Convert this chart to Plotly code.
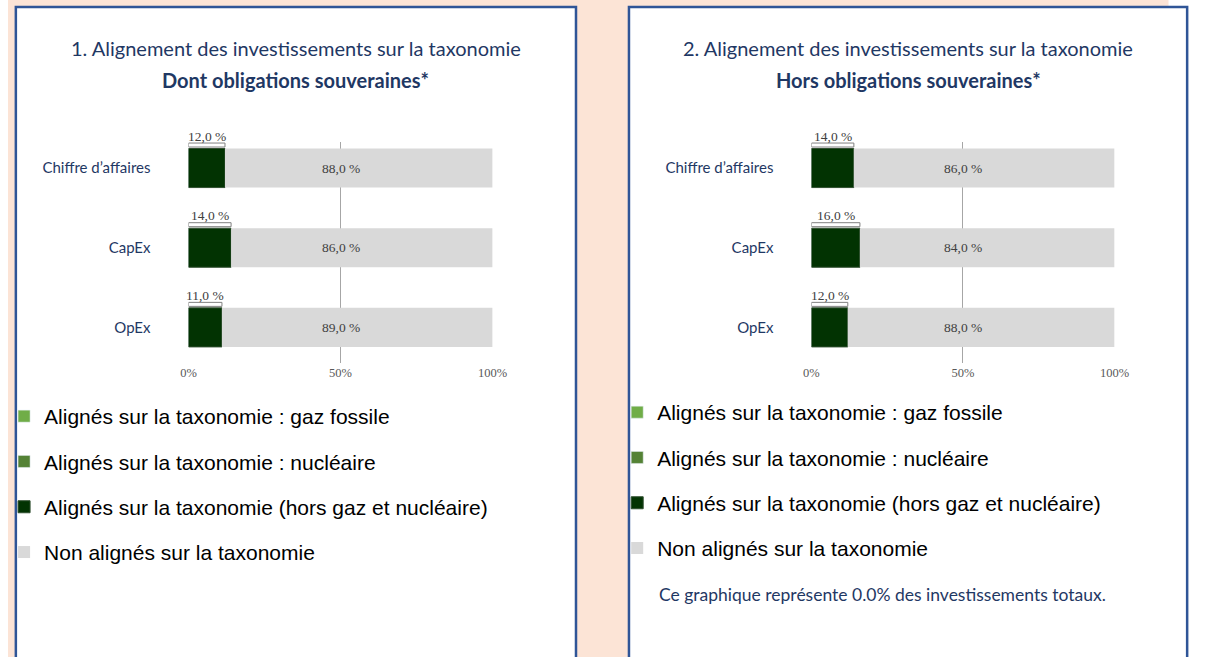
import plotly.graph_objects as go

# ---------------- data ----------------
categories = ["Chiffre d’affaires", "CapEx", "OpEx"]
tick_values = [0, 50, 100]
tick_labels = ["0%", "50%", "100%"]

left_gaz = [0, 0, 0]
left_nucl = [0, 0, 0]
left_aligned = [12.0, 14.0, 11.0]
left_non = [88.0, 86.0, 89.0]

right_gaz = [0, 0, 0]
right_nucl = [0, 0, 0]
right_aligned = [14.0, 16.0, 12.0]
right_non = [86.0, 84.0, 88.0]

series_names = [
    "Alignés sur la taxonomie : gaz fossile",
    "Alignés sur la taxonomie : nucléaire",
    "Alignés sur la taxonomie (hors gaz et nucléaire)",
    "Non alignés sur la taxonomie",
]
titles_line1 = ["1. Alignement des investissements sur la taxonomie",
                "2. Alignement des investissements sur la taxonomie"]
titles_line2 = ["Dont obligations souveraines*", "Hors obligations souveraines*"]
footnote = "Ce graphique représente 0.0% des investissements totaux."

# ---------------- style ----------------
W, H = 1210, 657
PEACH = "#FCE4D6"
BORDER = "#2F5597"
NAVY = "#1F3864"
C_GAZ = "#70AD47"
C_NUCL = "#548235"
C_ALIGN = "#023302"
C_NON = "#D9D9D9"
SANS = "Lato, 'Open Sans', sans-serif"
SERIF = "'Liberation Serif', 'Times New Roman', serif"
ARIAL = "'Liberation Sans', Arial, sans-serif"


def px_x(v):
    return v / W


def px_y(v):
    return 1 - v / H


def fmt(v):
    return f"{v:.1f}".replace(".", ",") + " %"


fig = go.Figure()

panels = [
    dict(x="x", y="y", gaz=left_gaz, nucl=left_nucl, al=left_aligned, non=left_non, legend="legend"),
    dict(x="x2", y="y2", gaz=right_gaz, nucl=right_nucl, al=right_aligned, non=right_non, legend="legend2"),
]

BAR_W = 0.49
for p in panels:
    common = dict(xaxis=p["x"], yaxis=p["y"], orientation="h", legend=p["legend"])
    fig.add_trace(go.Bar(y=categories, x=p["gaz"], name=series_names[0], marker_color=C_GAZ,
                         width=BAR_W, legendgroup="g1", hoverinfo="skip", **common))
    fig.add_trace(go.Bar(y=categories, x=p["nucl"], name=series_names[1], marker_color=C_NUCL,
                         width=BAR_W, legendgroup="g2", hoverinfo="skip", **common))
    fig.add_trace(go.Bar(y=categories, x=p["al"], name=series_names[2], marker_color=C_ALIGN,
                         marker_line=dict(color="#2f4f2f", width=1),
                         width=BAR_W, legendgroup="g3", **common))
    fig.add_trace(go.Bar(y=categories, x=p["non"], base=p["al"], name=series_names[3],
                         marker_color=C_NON, marker_line_width=0,
                         width=BAR_W, legendgroup="g4", **common))
    # thin outline bracket above aligned bar (as in reference)
    fig.add_trace(go.Bar(y=categories, x=p["al"], width=0.05, offset=-0.314,
                         marker=dict(color="white", line=dict(color="#808080", width=1)),
                         showlegend=False, hoverinfo="skip", xaxis=p["x"], yaxis=p["y"],
                         orientation="h"))
    for cat, a, n in zip(categories, p["al"], p["non"]):
        fig.add_annotation(xref=p["x"], yref=p["y"], x=a / 2, y=cat, yshift=32,
                           text=fmt(a), showarrow=False,
                           font=dict(family=SERIF, size=13.5, color="#404040"))
        fig.add_annotation(xref=p["x"], yref=p["y"], x=(a + n) / 2, y=cat,
                           text=fmt(n), showarrow=False,
                           font=dict(family=SERIF, size=13.5, color="#404040"))

# ---------- axes ----------
ydom = [px_y(363), px_y(142)]
xaxis_common = dict(range=[0, 100], tickvals=tick_values, ticktext=tick_labels,
                    showgrid=True, gridcolor="#A6A6A6", gridwidth=1, zeroline=False,
                    showline=False, ticks="", fixedrange=True,
                    tickfont=dict(family=SERIF, size=12.5, color="#595959"))
yaxis_common = dict(type="category", categoryorder="array", categoryarray=categories,
                    range=[2.447, -0.327], showgrid=False, zeroline=False, showline=False,
                    ticks="", ticklabelstandoff=37, fixedrange=True,
                    tickfont=dict(family=SANS, size=15, color=NAVY))

fig.update_layout(
    xaxis=dict(domain=[px_x(184), px_x(494)], anchor="y", **xaxis_common),
    yaxis=dict(domain=ydom, anchor="x", **yaxis_common),
    xaxis2=dict(domain=[px_x(819), px_x(1128)], anchor="y2", **xaxis_common),
    yaxis2=dict(domain=ydom, anchor="x2", **yaxis_common),
)

# ---------- background & panels ----------
shapes = [
    dict(type="rect", xref="paper", yref="paper", x0=0, x1=px_x(1183), y0=0, y1=1,
         fillcolor=PEACH, line_width=0, layer="below"),
    dict(type="rect", xref="paper", yref="paper", x0=px_x(8), x1=px_x(579), y0=px_y(670), y1=px_y(7),
         fillcolor="white", line=dict(color=BORDER, width=2.5), layer="below"),
    dict(type="rect", xref="paper", yref="paper", x0=px_x(633), x1=px_x(1202), y0=px_y(670), y1=px_y(7),
         fillcolor="white", line=dict(color=BORDER, width=2.5), layer="below"),
]

# ---------- titles ----------
for cx, t1, t2 in zip([293.5, 917.5], titles_line1, titles_line2):
    fig.add_annotation(xref="paper", yref="paper", x=px_x(cx), y=px_y(48), text=t1,
                       showarrow=False, xanchor="center", yanchor="middle",
                       font=dict(family=SANS, size=20, color=NAVY))
    fig.add_annotation(xref="paper", yref="paper", x=px_x(cx), y=px_y(80), text=f"<b>{t2}</b>",
                       showarrow=False, xanchor="center", yanchor="middle",
                       font=dict(family=SANS, size=20, color=NAVY))

fig.add_annotation(xref="paper", yref="paper", x=px_x(662), y=px_y(594), text=footnote,
                   showarrow=False, xanchor="left", yanchor="middle",
                   font=dict(family=SANS, size=17.5, color=NAVY))

legend_common = dict(orientation="v", xanchor="left", yanchor="top",
                     bgcolor="rgba(0,0,0,0)", borderwidth=0, tracegroupgap=15,
                     traceorder="grouped",
                     font=dict(family=ARIAL, size=21, color="#000000"),
                     itemclick=False, itemdoubleclick=False)

fig.update_layout(
    width=W, height=H,
    margin=dict(l=0, r=0, t=0, b=0),
    paper_bgcolor="white", plot_bgcolor="rgba(0,0,0,0)",
    barmode="overlay",
    showlegend=True,
    shapes=shapes,
    legend=dict(x=px_x(-4), y=px_y(396), **legend_common),
    legend2=dict(x=px_x(621), y=px_y(392), **legend_common),
)

fig.write_html("out.html", config={"displayModeBar": False},
               post_script="document.body.style.margin='0';document.body.style.overflow='hidden';")
